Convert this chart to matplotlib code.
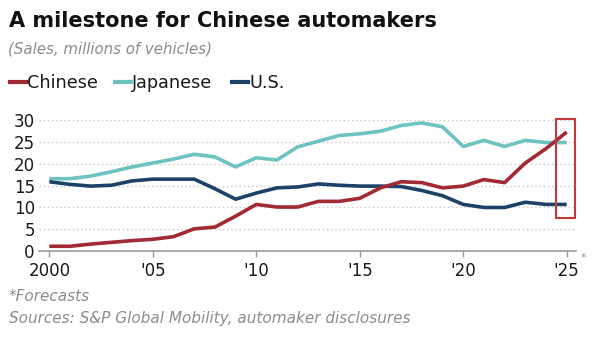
import numpy as np
import matplotlib.pyplot as plt
from matplotlib.patches import Rectangle

plt.rcParams['font.family'] = ['DejaVu Sans']

years = list(range(2000, 2026))
chinese = [1.1, 1.1, 1.6, 2.0, 2.4, 2.7, 3.3, 5.1, 5.5, 8.0, 10.7, 10.1, 10.1,
           11.4, 11.4, 12.1, 14.5, 15.9, 15.7, 14.5, 14.9, 16.4, 15.7, 20.2, 23.5, 27.3]
japanese = [16.6, 16.6, 17.2, 18.2, 19.3, 20.2, 21.1, 22.2, 21.6, 19.3, 21.4, 20.9, 23.9,
            25.2, 26.5, 26.9, 27.5, 28.8, 29.4, 28.5, 24.0, 25.4, 24.0, 25.4, 24.9, 24.9]
us = [15.9, 15.3, 14.9, 15.1, 16.1, 16.5, 16.5, 16.5, 14.3, 11.9, 13.3, 14.5, 14.7,
      15.4, 15.1, 14.9, 14.9, 14.8, 13.9, 12.7, 10.7, 10.0, 10.0, 11.2, 10.7, 10.7]

x_ticks = [2000, 2005, 2010, 2015, 2020, 2025]
x_labels = ["2000", "'05", "'10", "'15", "'20", "'25"]
y_ticks = [0, 5, 10, 15, 20, 25, 30]

c_cn = "#a12a35"
c_jp = "#6cc3bf"
c_us = "#1d4268"

fig = plt.figure(figsize=(6, 3.37), dpi=100)
ax = fig.add_axes([0.065, 0.255, 0.895, 0.401])

ax.plot(years, japanese, color=c_jp, lw=2.6, solid_capstyle="butt")
ax.plot(years, us, color=c_us, lw=2.6, solid_capstyle="butt")
ax.plot(years, chinese, color=c_cn, lw=2.6, solid_capstyle="butt")

# highlight box around the forecast year
ax.add_patch(Rectangle((2024.5, 7.6), 0.9, 22.6, fill=False, ec="#c9363c", lw=1.5,
                       clip_on=False, zorder=5))

ax.set_xlim(1999.5, 2025.45)
ax.set_ylim(0, 31)
ax.set_yticks(y_ticks)
ax.set_yticklabels([str(v) for v in y_ticks], fontsize=12)
ax.set_xticks(x_ticks)
ax.set_xticklabels(x_labels, fontsize=12)
ax.grid(axis="y", color="#c8c8c8", ls=(0, (1, 2)), lw=1)
ax.set_axisbelow(True)
for s in ["top", "right", "left"]:
    ax.spines[s].set_visible(False)
ax.spines["bottom"].set_color("#9a9a9a")
ax.spines["bottom"].set_linewidth(1.2)
ax.tick_params(axis="y", length=0, pad=3, colors="#1a1a1a")
ax.tick_params(axis="x", length=4, width=1, color="#9a9a9a", pad=4, labelcolor="#1a1a1a")
fig.text(0.968, 0.225, "*", fontsize=8, color="#999999")

fig.text(0.015, 0.919, "A milestone for Chinese automakers", fontsize=15,
         fontweight="bold", color="#111111")
fig.text(0.014, 0.842, "(Sales, millions of vehicles)", fontsize=10.8,
         style="italic", color="#8c8c8c")

# legend row
legend_items = [("Chinese", c_cn, 0.017), ("Japanese", c_jp, 0.192), ("U.S.", c_us, 0.387)]
for name, col, x0 in legend_items:
    fig.add_artist(plt.Line2D([x0, x0 + 0.027], [0.756, 0.756], color=col, lw=3,
                              transform=fig.transFigure))
    fig.text(x0 + 0.028, 0.738, name, fontsize=12.7, va="baseline", color="#1a1a1a")

fig.text(0.015, 0.107, "*Forecasts", fontsize=11, style="italic", color="#8c8c8c")
fig.text(0.015, 0.042, "Sources: S&P Global Mobility, automaker disclosures",
         fontsize=11, style="italic", color="#8c8c8c")

fig.savefig("out.png", dpi=100)
